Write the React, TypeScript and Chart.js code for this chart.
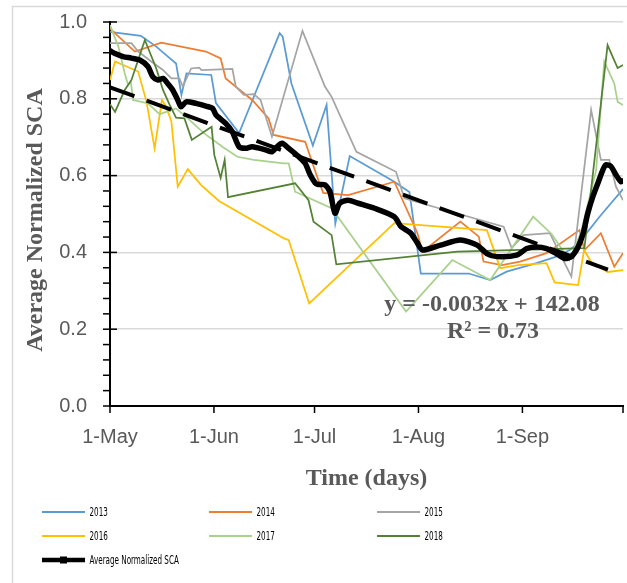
import React, { useEffect, useRef } from "react";
import { Chart, registerables } from "chart.js";

Chart.register(...registerables);

// ---- Axis definitions (x = days since 1-May) ----
const tickDays = [0, 31, 61, 92, 123];
const tickLabels = ["1-May", "1-Jun", "1-Jul", "1-Aug", "1-Sep"];
const xMax = 153; // 1-Oct
const yMajorStep = 0.2;
const yMinorStep = 0.04;

// ---- Series ----
const days2013 = [0, 9.2, 13.8, 17.8, 19.7, 21.3, 22.8, 30.2, 31.6, 38.5, 50.6, 51.5, 54.1, 60.5, 64.6, 67.2, 71.5, 84.8, 89.3, 92.7, 107, 113.4, 118.3, 127.2, 133.1, 137.1, 140.5, 146, 153];
const vals2013 = [0.974, 0.964, 0.936, 0.906, 0.892, 0.81, 0.866, 0.862, 0.789, 0.711, 0.971, 0.962, 0.84, 0.678, 0.784, 0.475, 0.651, 0.584, 0.557, 0.345, 0.345, 0.328, 0.35, 0.372, 0.389, 0.406, 0.432, 0.493, 0.565];

const days2014 = [0, 7.4, 15.3, 28.6, 33, 34.5, 42.4, 47.3, 48.8, 58.2, 62.1, 63.6, 71, 84.8, 91.7, 93.2, 104.5, 110, 111.4, 116.9, 122.3, 130.2, 140, 141.5, 146.4, 150.4, 153];
const vals2014 = [0.983, 0.923, 0.946, 0.923, 0.905, 0.853, 0.797, 0.749, 0.706, 0.688, 0.589, 0.555, 0.549, 0.584, 0.45, 0.402, 0.48, 0.441, 0.376, 0.367, 0.376, 0.398, 0.458, 0.406, 0.45, 0.363, 0.398];

const days2015 = [0, 6.4, 8.4, 12.3, 15.8, 18.3, 20.7, 21.7, 24.2, 26.6, 27.3, 36.5, 37.5, 39.9, 42.9, 44.9, 48.3, 57.4, 64.1, 66.1, 73.5, 85.3, 87.8, 98.1, 117.4, 119.8, 123.3, 131.2, 134.1, 137.6, 143.5, 146.4, 148.9, 150.9, 153];
const vals2015 = [0.945, 0.945, 0.923, 0.897, 0.875, 0.853, 0.853, 0.832, 0.879, 0.881, 0.875, 0.878, 0.832, 0.81, 0.812, 0.797, 0.701, 0.977, 0.832, 0.805, 0.662, 0.61, 0.541, 0.515, 0.467, 0.411, 0.445, 0.45, 0.398, 0.337, 0.771, 0.641, 0.641, 0.571, 0.536];

const days2016 = [0, 1.5, 8.4, 10.9, 13.3, 15.5, 16.8, 18.3, 20.2, 23.2, 27.1, 32.5, 51.8, 53.3, 59.4, 84.8, 103.6, 112.4, 116.4, 121.8, 130.2, 132.6, 139.6, 141.4, 143.5, 148.4, 153];
const vals2016 = [0.849, 0.897, 0.871, 0.792, 0.671, 0.797, 0.779, 0.741, 0.571, 0.617, 0.576, 0.534, 0.437, 0.432, 0.267, 0.476, 0.464, 0.458, 0.359, 0.367, 0.372, 0.322, 0.315, 0.406, 0.375, 0.349, 0.354];

const days2017 = [0, 2.5, 4.4, 5.4, 6.2, 6.9, 8.4, 11.3, 14.8, 19.7, 23.2, 28.1, 33.5, 38, 42.9, 51.8, 53.3, 55.2, 66.1, 88.3, 102.1, 113.4, 126.2, 131.7, 137, 140.5, 145, 147.4, 150.4, 151.4, 153];
const vals2017 = [0.992, 0.936, 0.866, 0.836, 0.845, 0.797, 0.794, 0.788, 0.76, 0.775, 0.749, 0.71, 0.675, 0.649, 0.641, 0.632, 0.632, 0.558, 0.515, 0.246, 0.38, 0.328, 0.493, 0.448, 0.38, 0.453, 0.615, 0.897, 0.84, 0.792, 0.784];

const days2018 = [0, 1.5, 4.4, 6.4, 10.4, 13.8, 15.8, 17.8, 19.7, 22.2, 24.4, 30.3, 31.1, 33, 34.2, 35.2, 55.2, 59.2, 60.7, 66.1, 67.5, 103.6, 141.5, 148.4, 151.4, 153];
const vals2018 = [0.786, 0.766, 0.823, 0.849, 0.953, 0.879, 0.823, 0.784, 0.751, 0.749, 0.693, 0.727, 0.654, 0.594, 0.641, 0.544, 0.58, 0.536, 0.48, 0.445, 0.369, 0.402, 0.411, 0.94, 0.88, 0.888];

const avgDays = [0, 1.5, 3.9, 6.4, 8.9, 11.3, 12.8, 14.3, 15.8, 17.2, 18.7, 20.2, 21.2, 22.7, 25.7, 28.6, 30.6, 31.6, 34.5, 36.5, 38.5, 40.4, 42.4, 46.4, 48.3, 49.8, 51.3, 53.3, 56.2, 58.2, 59.7, 61.2, 62.1, 64.1, 65.6, 67.1, 68.5, 71, 74, 78.9, 84.8, 86.8, 89.7, 91.7, 93.2, 98.6, 104.5, 109.5, 112.4, 115.4, 121.3, 124.3, 127.2, 130.2, 133.1, 135.6, 137.6, 139.6, 141.1, 142.5, 144, 145.5, 147, 147.9, 149.4, 150.9, 152.4, 153];
const avgVals = [0.925, 0.918, 0.91, 0.906, 0.901, 0.884, 0.857, 0.849, 0.853, 0.84, 0.823, 0.797, 0.779, 0.792, 0.788, 0.781, 0.775, 0.758, 0.736, 0.714, 0.675, 0.671, 0.675, 0.667, 0.662, 0.675, 0.684, 0.671, 0.65, 0.632, 0.602, 0.581, 0.577, 0.576, 0.558, 0.502, 0.528, 0.536, 0.528, 0.515, 0.493, 0.467, 0.45, 0.424, 0.406, 0.419, 0.432, 0.419, 0.397, 0.389, 0.393, 0.41, 0.414, 0.41, 0.397, 0.384, 0.389, 0.414, 0.449, 0.502, 0.545, 0.58, 0.615, 0.628, 0.624, 0.602, 0.584, 0.589];

const trendDays = [0, 148.5];
const trendVals = [0.83, 0.355];

const seriesNames = ["2013", "2014", "2015", "2016", "2017", "2018"];
const seriesColors = ["#5B9BD5", "#ED7D31", "#A5A5A5", "#FFC000", "#A9D18E", "#548235"];
const seriesDays = [days2013, days2014, days2015, days2016, days2017, days2018];
const seriesVals = [vals2013, vals2014, vals2015, vals2016, vals2017, vals2018];
const avgName = "Average Normalized SCA";
const equationText = "y = -0.0032x + 142.08";
const r2Text = "R\u00B2 = 0.73";
const yTitle = "Average Normalized SCA";
const xTitle = "Time (days)";

const pts = (d: number[], v: number[]) => d.map((x, i) => ({ x, y: v[i] }));

const GRAY_TEXT = "#595959";
const SERIF = '"Liberation Serif", "Times New Roman", serif';
const SANS = '"Liberation Sans", Arial, sans-serif';
const NARROW = '"Liberation Sans Narrow", "DejaVu Sans Condensed", sans-serif';

export default function App() {
  const ref = useRef<HTMLCanvasElement>(null);

  useEffect(() => {
    document.body.style.margin = "0";
    const canvas = ref.current!;

    const decor = {
      id: "decor",
      beforeDraw(chart: any) {
        const ctx = chart.ctx;
        ctx.save();
        ctx.fillStyle = "#fff";
        ctx.fillRect(0, 0, chart.width, chart.height);
        ctx.strokeStyle = "#D9D9D9";
        ctx.lineWidth = 1.5;
        ctx.strokeRect(12.5, 6.5, chart.width + 40, chart.height + 40);
        ctx.restore();
      },
      afterDraw(chart: any) {
        const ctx = chart.ctx;
        const { x, y } = chart.scales;
        const area = chart.chartArea;
        ctx.save();
        // y tick marks
        ctx.strokeStyle = "#000";
        ctx.lineWidth = 1.5;
        const n = Math.round(1 / yMinorStep);
        for (let i = 0; i <= n; i++) {
          const v = i * yMinorStep;
          const py = y.getPixelForValue(v);
          const major = Math.abs(v / yMajorStep - Math.round(v / yMajorStep)) < 1e-6;
          ctx.beginPath();
          ctx.moveTo(area.left - 7, py);
          ctx.lineTo(major ? area.left + 7 : area.left, py);
          ctx.stroke();
        }
        // x tick marks
        [...tickDays, xMax].forEach((d) => {
          const px = x.getPixelForValue(d);
          ctx.beginPath();
          ctx.moveTo(px, area.bottom);
          ctx.lineTo(px, area.bottom + 7);
          ctx.stroke();
        });
        // y title
        ctx.fillStyle = GRAY_TEXT;
        ctx.font = `bold 24px ${SERIF}`;
        ctx.textAlign = "center";
        ctx.textBaseline = "middle";
        ctx.save();
        ctx.translate(36, 220);
        ctx.rotate(-Math.PI / 2);
        ctx.fillText(yTitle, 0, 0);
        ctx.restore();
        // trend equation
        ctx.fillText(equationText, 492, 305);
        ctx.fillText(r2Text, 493, 332);

        // legend
        const cols = [42, 209, 377];
        const rows = [512, 536, 560];
        const lineLen = 43;
        ctx.font = `13px ${NARROW}`;
        const sx = 18.3 / ctx.measureText("2013").width;
        const drawLabel = (t: string, lx: number, ly: number) => {
          ctx.save();
          ctx.translate(lx, ly);
          ctx.scale(sx, 1);
          ctx.fillStyle = "#000";
          ctx.textAlign = "left";
          ctx.textBaseline = "middle";
          ctx.fillText(t, 0, 0);
          ctx.restore();
        };
        seriesNames.forEach((name, i) => {
          const lx = cols[i % 3];
          const ly = rows[Math.floor(i / 3)];
          ctx.strokeStyle = seriesColors[i];
          ctx.lineWidth = 2;
          ctx.beginPath();
          ctx.moveTo(lx, ly);
          ctx.lineTo(lx + lineLen, ly);
          ctx.stroke();
          drawLabel(name, lx + 47.5, ly + 0.5);
        });
        {
          const lx = cols[0];
          const ly = rows[2];
          ctx.strokeStyle = "#000";
          ctx.lineWidth = 4.5;
          ctx.beginPath();
          ctx.moveTo(lx, ly);
          ctx.lineTo(lx + lineLen, ly);
          ctx.stroke();
          ctx.fillStyle = "#000";
          ctx.fillRect(lx + lineLen / 2 - 3.5, ly - 3.5, 7, 7);
          drawLabel(avgName, lx + 47.5, ly + 0.5);
        }
        ctx.restore();
      },
    };

    const datasets: any[] = [
      {
        label: "Trend",
        data: pts(trendDays, trendVals),
        borderColor: "#000",
        borderWidth: 4,
        borderDash: [26, 13],
        borderCapStyle: "butt",
        pointRadius: 0,
        order: 0,
      },
      {
        label: avgName,
        data: pts(avgDays, avgVals),
        borderColor: "#000",
        backgroundColor: "#000",
        borderWidth: 5.5,
        pointRadius: 2.4,
        pointStyle: "rect",
        pointBorderWidth: 0,
        tension: 0.25,
        order: 1,
      },
      ...seriesNames.map((name, i) => ({
        label: name,
        data: pts(seriesDays[i], seriesVals[i]),
        borderColor: seriesColors[i],
        backgroundColor: seriesColors[i],
        borderWidth: 1.75,
        pointRadius: 0,
        tension: 0,
        order: 7 - i,
      })),
    ];

    const chart = new Chart(canvas, {
      type: "line",
      data: { datasets },
      options: {
        animation: false,
        responsive: false,
        devicePixelRatio: 1,
        layout: { padding: { top: 22, left: 0, right: 0, bottom: 0 } },
        plugins: { legend: { display: false }, tooltip: { enabled: false } },
        scales: {
          x: {
            type: "linear",
            min: 0,
            max: xMax,
            afterFit: (s: any) => {
              s.height = 583 - 406;
              s.paddingRight = 0;
            },
            afterBuildTicks: (s: any) => {
              s.ticks = tickDays.map((v) => ({ value: v }));
            },
            ticks: {
              autoSkip: false,
              maxRotation: 0,
              padding: 19,
              color: GRAY_TEXT,
              font: { family: SANS, size: 20 },
              callback: (v: any) => {
                const i = tickDays.indexOf(Number(v));
                return i >= 0 ? tickLabels[i] : "";
              },
            },
            grid: { display: false, drawTicks: false },
            border: { display: true, color: "#000", width: 2 },
            title: {
              display: true,
              text: xTitle,
              color: GRAY_TEXT,
              font: { family: SERIF, size: 24, weight: "bold" },
              padding: { top: 0, bottom: 89.6 },
            },
          },
          y: {
            min: 0,
            max: 1,
            afterFit: (s: any) => {
              s.width = 110;
              s.paddingTop = 0;
              s.paddingBottom = 0;
            },
            ticks: {
              stepSize: yMajorStep,
              padding: 23,
              color: GRAY_TEXT,
              font: { family: SANS, size: 20 },
              callback: (v: any) => Number(v).toFixed(1),
            },
            grid: { color: "#D9D9D9", lineWidth: 1.5, drawTicks: false },
            border: { display: true, color: "#000", width: 2 },
            title: { display: false },
          },
        },
      },
      plugins: [decor],
    } as any);

    return () => chart.destroy();
  }, []);

  return (
    <div style={{ width: 627, height: 583 }}>
      <canvas ref={ref} width={627} height={583} style={{ display: "block" }} />
    </div>
  );
}
